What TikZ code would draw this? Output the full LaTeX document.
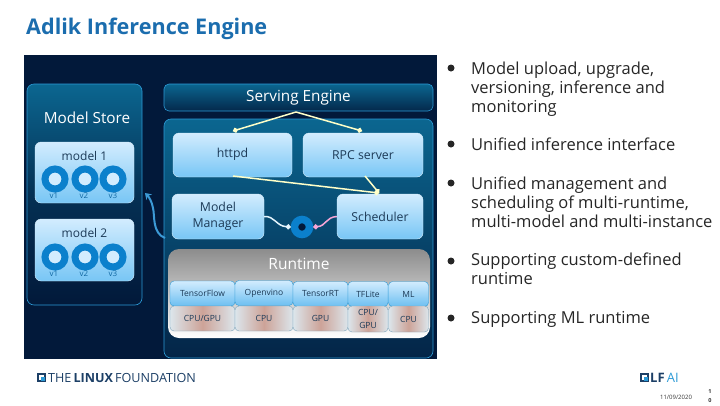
\documentclass[tikz,border=0pt]{standalone}
\usepackage{fontspec}
\setmainfont{Open Sans}
\usetikzlibrary{arrows.meta}
\definecolor{slidebg}{HTML}{02193A}
\definecolor{panelline}{HTML}{2C9AD6}
\definecolor{paneltop}{HTML}{0B6690}
\definecolor{boxtop}{HTML}{D2ECFE}
\definecolor{boxbot}{HTML}{78C6F5}
\definecolor{boxtext}{HTML}{1C3A57}
\definecolor{ringblue}{HTML}{0B80CC}
\definecolor{wireyellow}{HTML}{FFFFC8}
\definecolor{titleblue}{HTML}{1B6DAE}
\definecolor{lfnavy}{HTML}{1C3F66}
\definecolor{hwred}{HTML}{CDA398}
\definecolor{hwpale}{HTML}{DCE6EC}
\tikzset{
  panel/.style={draw=panelline, rounded corners=7pt, line width=0.6pt, top color=paneltop, bottom color=slidebg, middle color=slidebg!70!paneltop},
  softbox/.style={draw=white!70!boxbot, rounded corners=6pt, top color=boxtop, bottom color=boxbot, text=boxtext, align=center, font=\fontsize{12.3}{16}\selectfont, inner sep=0pt},
  ring/.style={circle, draw=ringblue, line width=7pt, minimum size=20pt, inner sep=0pt, fill=boxtop},
  verlabel/.style={text=ringblue!65!boxtext, font=\fontsize{8}{9}\selectfont, inner sep=0pt},
  headcell/.style={draw=panelline, rounded corners=4pt, top color=boxtop, bottom color=boxbot!90!ringblue, text=boxtext, font=\fontsize{8.5}{10}\selectfont, inner sep=0pt},
  hwcell/.style={draw=boxbot!50!gray, rounded corners=4pt, left color=hwpale, right color=hwpale, middle color=hwred, text=boxtext, align=center, font=\fontsize{8.5}{13}\selectfont, inner sep=0pt},
  wire/.style={wireyellow, line width=1.5pt, -{Circle[length=5pt]}},
  bulletdot/.style={circle, fill=black!85, minimum size=7pt, inner sep=0pt},
  bullettext/.style={anchor=north west, align=left, inner sep=0pt, text=black!85, font=\fontsize{16.5}{19}\selectfont},
}
\begin{document}
\begin{tikzpicture}[x=1pt,y=-1pt]
\useasboundingbox (0,0) rectangle (720,405);
\node[anchor=west, inner sep=0pt, text=titleblue, font=\fontsize{21.6}{24}\selectfont\bfseries] (title) at (26,29) {Adlik Inference Engine};
\fill[slidebg] (24,55) rectangle (437,359);
% model store
\draw[panel] (27,84) rectangle (142,305);
\node[text=white, inner sep=0pt, font=\fontsize{15.3}{18}\selectfont] (store) at (87,118) {Model Store};
\node[softbox, minimum width=99pt, minimum height=61pt] (model1) at (84.5,172.5) {};
\node[softbox, minimum width=99pt, minimum height=62pt] (model2) at (84.5,250) {};
\node[text=boxtext, inner sep=0pt, font=\fontsize{12}{16}\selectfont] (model1name) at (84.5,156) {model 1};
\node[text=boxtext, inner sep=0pt, font=\fontsize{12}{16}\selectfont] (model2name) at (84.5,233) {model 2};
\node[ring] (m1a) at (55,179) {};
\node[ring] (m1b) at (85,179) {};
\node[ring] (m1c) at (113,179) {};
\node[ring] (m2a) at (55,257) {};
\node[ring] (m2b) at (85,257) {};
\node[ring] (m2c) at (113,257) {};
\node[verlabel] (v1a) at (54,196) {v1};
\node[verlabel] (v1b) at (84,196) {v2};
\node[verlabel] (v1c) at (113,196) {v3};
\node[verlabel] (v2a) at (54,274) {v1};
\node[verlabel] (v2b) at (84,274) {v2};
\node[verlabel] (v2c) at (113,274) {v3};
% serving engine
\node[panel, rounded corners=5pt, minimum width=269pt, minimum height=27pt, inner sep=0pt, text=white, font=\fontsize{15.3}{18}\selectfont, bottom color=slidebg!80!paneltop, middle color=slidebg!40!paneltop] (serving) at (298.5,97.5) {Serving Engine};
\draw[panel, bottom color=slidebg!85!paneltop] (164,119) rectangle (433,358);
\node[softbox, minimum width=119pt, minimum height=44pt] (httpd) at (232.5,155) {};
\node[softbox, minimum width=120pt, minimum height=44pt] (rpc) at (363,155) {RPC server};
\node[text=boxtext, inner sep=0pt, font=\fontsize{12.3}{16}\selectfont] (httpdname) at (232.5,154) {httpd};
\node[softbox, minimum width=92pt, minimum height=45pt] (manager) at (218,216.5) {Model\\Manager};
\node[softbox, minimum width=86pt, minimum height=45pt] (scheduler) at (380,216.5) {Scheduler};
\node[circle, draw=ringblue, line width=7.5pt, minimum size=15pt, inner sep=0pt, fill=slidebg] (hub) at (302,227) {};
% wires
\coordinate (apex) at (296,112);
\coordinate (schedtop) at (379,193);
\draw[wire] (apex) -- (233,131);
\draw[wire] (apex) -- (362,131);
\draw[wire] (233,176) -- (schedtop);
\draw[wire] (365,176) -- (schedtop);
\draw[white!80!boxbot, line width=1.5pt, -{Circle[length=5pt]}] (manager.east) .. controls (275,216) and (276,226) .. (hub.west);
\draw[magenta!35!white, line width=1.5pt, -{Circle[length=5pt]}] (scheduler.west) .. controls (326,217) and (326,226) .. (hub.east);
\coordinate (storeport) at (145,193);
\coordinate (engineport) at (165,238);
\draw[ringblue!80!white, line width=2pt, -{Stealth[length=6pt,width=8pt]}] (engineport) .. controls (152,233) and (155,216) .. (153,208) .. controls (152,202) and (149,197) .. (storeport);
% runtime
\draw[rounded corners=11pt, draw=none, top color=black!45, bottom color=white] (168,249) rectangle (430,338);
\node[text=white, inner sep=0pt, font=\fontsize{15.5}{18}\selectfont] (runtime) at (299,264) {Runtime};
\node[headcell, minimum width=65pt, minimum height=25pt] (tf) at (202.5,293.5) {TensorFlow};
\node[headcell, minimum width=58pt, minimum height=25pt] (ov) at (264,293) {Openvino};
\node[headcell, minimum width=55pt, minimum height=25pt] (trt) at (320.5,294) {TensorRT};
\node[headcell, minimum width=40pt, minimum height=25pt] (tfl) at (368,294) {TFLite};
\node[headcell, minimum width=40pt, minimum height=25pt] (ml) at (408.5,294) {ML};
\node[hwcell, minimum width=65pt, minimum height=25pt] (tfhw) at (202.5,318.5) {CPU/GPU};
\node[hwcell, minimum width=58pt, minimum height=25pt] (ovhw) at (264,318.5) {CPU};
\node[hwcell, minimum width=55pt, minimum height=25pt] (trthw) at (320.5,318.5) {GPU};
\node[hwcell, minimum width=40pt, minimum height=26pt] (tflhw) at (368,319) {CPU/\\GPU};
\node[hwcell, minimum width=40pt, minimum height=26pt] (mlhw) at (408.5,319) {CPU};
% bullets
\node[bulletdot] (b1) at (451,68) {};
\node[bulletdot] (b2) at (451,144) {};
\node[bulletdot] (b3) at (451,183) {};
\node[bulletdot] (b4) at (451,261) {};
\node[bulletdot] (b5) at (451,318) {};
\node[bullettext] (t1) at (471,62) {Model upload, upgrade,\\versioning, inference and\\monitoring};
\node[bullettext] (t2) at (471,138) {Unified inference interface};
\node[bullettext] (t3) at (471,177) {Unified management and\\scheduling of multi-runtime,\\multi-model and multi-instance};
\node[bullettext] (t4) at (471,253) {Supporting custom-defined\\runtime};
\node[bullettext] (t5) at (471,311) {Supporting ML runtime};
% footer
\draw[lfnavy, line width=1.6pt] (38,374) rectangle (45,381);
\fill[panelline] (40.5,376.5) rectangle (45,381);
\node[anchor=west, inner sep=0pt, text=lfnavy, font=\fontsize{12.6}{14}\selectfont] (lfname) at (48,377.5) {THE\,\textbf{LINUX}\,FOUNDATION};
\draw[lfnavy, line width=1.5pt] (641,374) rectangle (648,381);
\fill[panelline] (644,377) rectangle (648,381);
\node[anchor=west, inner sep=0pt, text=lfnavy, font=\fontsize{13}{15}\selectfont] (lfai) at (650,377.5) {\textbf{LF}\,\textcolor{panelline}{AI}};
\node[inner sep=0pt, text=black!80, font=\fontsize{6}{7}\selectfont] (date) at (676,397) {11/09/2020};
\node[inner sep=0pt, align=center, text=black!80, font=\fontsize{5.5}{8.5}\selectfont\bfseries] (page) at (710,396) {1\\0};
\end{tikzpicture}
\end{document}
